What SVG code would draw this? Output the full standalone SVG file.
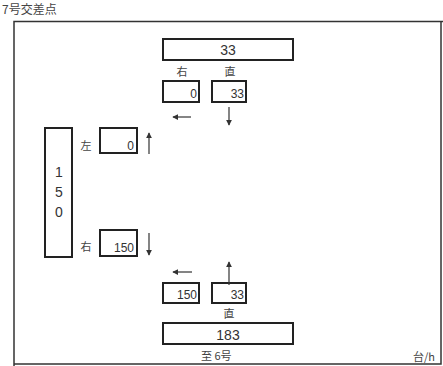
<svg xmlns="http://www.w3.org/2000/svg" width="443" height="366" viewBox="0 0 443 366">
<style>
.box{fill:#fff;stroke:#222;stroke-width:2}
.t{font-family:"Liberation Sans","Noto Sans CJK JP",sans-serif;fill:#333;font-size:12px}
.big{font-size:14px}
.c{text-anchor:middle}
.r{text-anchor:end}
.l{font-family:"Noto Sans CJK JP",sans-serif;fill:#444;font-size:11px}
.a{stroke:#333;stroke-width:1.2;fill:none}
</style>
<defs>
<marker id="ah" viewBox="0 0 8 8" refX="7" refY="4" markerWidth="6" markerHeight="6" orient="auto" markerUnits="userSpaceOnUse">
<path d="M0,0 L8,4 L0,8 Z" fill="#333"/>
</marker>
</defs>
<rect width="443" height="366" fill="#fff"/>
<text class="l" x="2" y="14" style="font-size:12px">7号交差点</text>
<path d="M14,366 V21.5 H443" fill="none" stroke="#333" stroke-width="1.5"/>
<path d="M441,21 V364 H14" fill="none" stroke="#333" stroke-width="1.5"/>
<g id="north">
<rect class="box" x="163" y="39" width="130" height="21"/>
<text class="t c big" x="228" y="55">33</text>
<text class="l c" x="182" y="76">右</text>
<text class="l c" x="230" y="76">直</text>
<rect class="box" x="163" y="81" width="36" height="21"/>
<text class="t r" x="197" y="98">0</text>
<rect class="box" x="212" y="81" width="34" height="21"/>
<text class="t r" x="244" y="98">33</text>
</g>
<g id="west">
<rect class="box" x="45" y="128" width="27" height="129"/>
<text class="t c big" x="59" y="177">1</text>
<text class="t c big" x="59" y="197">5</text>
<text class="t c big" x="59" y="217">0</text>
<text class="l c" x="86" y="150">左</text>
<rect class="box" x="100" y="128" width="37" height="25"/>
<text class="t r" x="134" y="150">0</text>
<text class="l c" x="86" y="251">右</text>
<rect class="box" x="100" y="230" width="37" height="26"/>
<text class="t r" x="134" y="252">150</text>
</g>
<g id="south">
<rect class="box" x="163" y="283" width="36" height="20"/>
<text class="t r" x="197" y="299">150</text>
<rect class="box" x="212" y="283" width="34" height="20"/>
<text class="t r" x="244" y="299">33</text>
<text class="l c" x="229" y="318">直</text>
<rect class="box" x="163" y="323" width="130" height="21"/>
<text class="t c big" x="228" y="340">183</text>
<text class="l" x="201" y="360">至 6号</text>
</g>
<text class="l" x="413" y="361">台/h</text>
<g id="connectors">
<path class="a" d="M191,117 H173" marker-end="url(#ah)"/>
<path class="a" d="M229,107 V125" marker-end="url(#ah)"/>
<path class="a" d="M149,154 V133" marker-end="url(#ah)"/>
<path class="a" d="M149,233 V255" marker-end="url(#ah)"/>
<path class="a" d="M192,272 H173" marker-end="url(#ah)"/>
<path class="a" d="M229,285 V262" marker-end="url(#ah)"/>
</g>
</svg>
